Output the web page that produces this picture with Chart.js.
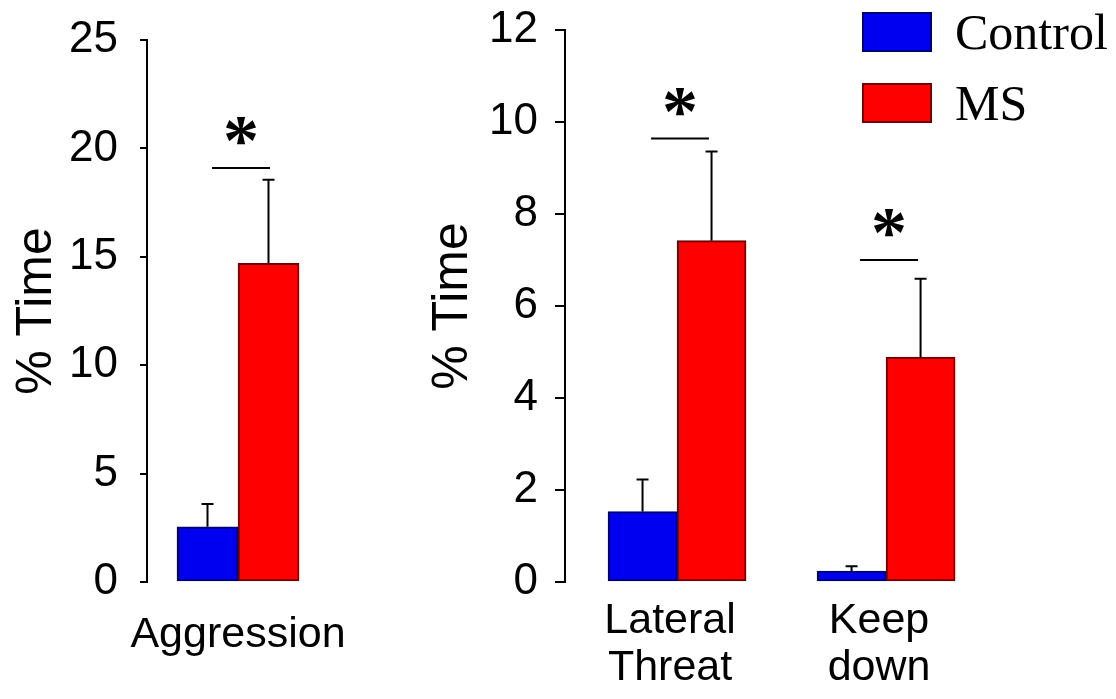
<!DOCTYPE html>
<html>
<head>
<meta charset="utf-8">
<script src="https://cdn.jsdelivr.net/npm/chart.js@4.4.1/dist/chart.umd.min.js"></script>
<style>
  html, body { margin: 0; padding: 0; background: #fff; }
  #wrap { position: relative; width: 1116px; height: 699px; overflow: hidden; }
  #c1 { position: absolute; left: 0; top: 0; }
  #c2 { position: absolute; left: 380px; top: 0; }
  .key { position: absolute; left: 862px; height: 40px; display: flex; align-items: center;
         font: 50px 'Liberation Serif', 'Times New Roman', serif; color: #000; }
  .sw { width: 66px; height: 36px; border: 2px solid; margin-right: 23px; }
</style>
</head>
<body>
<div id="wrap">
  <canvas id="c1" width="380" height="699"></canvas>
  <canvas id="c2" width="736" height="699"></canvas>
  <div class="key" style="top:12px"><span class="sw" style="background:#0000f0;border-color:#000070"></span>Control</div>
  <div class="key" style="top:83px"><span class="sw" style="background:#ff0000;border-color:#700000"></span>MS</div>
</div>
<script>
const Chart = window.Chart;
Chart.defaults.font.family = "'Liberation Sans', Arial, sans-serif";
Chart.defaults.color = '#000';

// left panel: aggression
const aggCats = ['Aggression'];
const aggControl = [2.55];
const aggControlErr = [1.05];
const aggMS = [14.7];
const aggMSErr = [3.85];
const aggSig = [19.1];

// right panel: lateral threat / keep down
const socCats = [['Lateral', 'Threat'], ['Keep', 'down']];
const socControl = [1.53, 0.24];
const socControlErr = [0.70, 0.10];
const socMS = [7.42, 4.89];
const socMSErr = [1.94, 1.70];
const socSig = [9.64, 7.0];

const C = {
  blue: '#0000f0', blueEdge: '#000070',
  red: '#ff0000', redEdge: '#700000',
  ink: '#000',
};

// upward-only SEM bars with a cap
const errorBars = {
  id: 'errorBars',
  afterDatasetsDraw(chart, args, opts) {
    const { ctx, scales: { y } } = chart;
    ctx.save();
    ctx.strokeStyle = C.ink;
    ctx.lineWidth = 2;
    chart.data.datasets.forEach((ds, di) => {
      chart.getDatasetMeta(di).data.forEach((bar, i) => {
        const top = y.getPixelForValue(ds.data[i].y + ds.err[i]);
        ctx.beginPath();
        ctx.moveTo(bar.x, bar.y);
        ctx.lineTo(bar.x, top);
        ctx.moveTo(bar.x - opts.cap, top);
        ctx.lineTo(bar.x + opts.cap, top);
        ctx.stroke();
      });
    });
    ctx.restore();
  },
};

// significance line + asterisk above each group
const sigMarks = {
  id: 'sigMarks',
  afterDatasetsDraw(chart, args, opts) {
    const { ctx, scales: { x, y } } = chart;
    ctx.save();
    ctx.strokeStyle = C.ink;
    ctx.fillStyle = C.ink;
    ctx.lineWidth = 2;
    ctx.font = "bold 72px 'Liberation Serif', 'Times New Roman', serif";
    ctx.textAlign = 'center';
    ctx.textBaseline = 'alphabetic';
    opts.levels.forEach((lv, i) => {
      const cx = x.getPixelForValue(i) + opts.shift;
      const py = y.getPixelForValue(lv);
      ctx.beginPath();
      ctx.moveTo(cx - opts.half, py);
      ctx.lineTo(cx + opts.half, py);
      ctx.stroke();
      ctx.fillText('*', cx, py - opts.gap);
    });
    ctx.restore();
  },
};

function panel(id, cfg) {
  return new Chart(document.getElementById(id), {
    type: 'bar',
    data: {
      datasets: [
        { label: 'Control', data: cfg.control.map((v, i) => ({ x: i, y: v })), err: cfg.controlErr,
          backgroundColor: C.blue, borderColor: C.blueEdge },
        { label: 'MS', data: cfg.ms.map((v, i) => ({ x: i, y: v })), err: cfg.msErr,
          backgroundColor: C.red, borderColor: C.redEdge },
      ],
    },
    plugins: [errorBars, sigMarks],
    options: {
      responsive: false,
      animation: false,
      layout: { padding: { top: cfg.top, right: cfg.right, left: 0, bottom: 0 } },
      datasets: { bar: { barThickness: cfg.barW, borderWidth: 2, borderSkipped: false } },
      plugins: {
        legend: { display: false },
        tooltip: { enabled: false },
        errorBars: { cap: 6 },
        sigMarks: { levels: cfg.sig, half: 29, shift: 3, gap: 4 },
      },
      scales: {
        x: {
          type: 'linear', min: cfg.xMin, max: cfg.xMax, offset: false,
          grid: { display: false, drawTicks: false },
          border: { display: false },
          ticks: {
            stepSize: 1, includeBounds: false, autoSkip: false, maxRotation: 0, minRotation: 0,
            padding: cfg.xPad, labelOffset: cfg.xShift, font: { size: 43, lineHeight: 1.08 },
            callback: (v) => cfg.cats[v] ?? '',
          },
          afterFit: (s) => { s.height = 117; },
        },
        y: {
          min: 0, max: cfg.yMax,
          ticks: { stepSize: cfg.step, padding: cfg.yPad, font: { size: 44, lineHeight: 0.4 } },
          grid: { drawOnChartArea: false, color: C.ink, lineWidth: 2, tickLength: cfg.tick },
          border: { color: C.ink, width: 2 },
          title: { display: true, text: '% Time', font: { size: 50, lineHeight: 1 },
                   padding: { top: cfg.titlePad, bottom: 0 } },
          afterFit: (s) => { s.width = cfg.axisW; },
        },
      },
    },
  });
}

panel('c1', {
  cats: aggCats, control: aggControl, controlErr: aggControlErr, ms: aggMS, msErr: aggMSErr, sig: aggSig,
  yMax: 25, step: 5, top: 40, right: 51, axisW: 147, xMin: -0.5, xMax: 0.5,
  barW: 61, tick: 7, yPad: 22, xPad: 30, xShift: 0, titlePad: 12,
});

panel('c2', {
  cats: socCats, control: socControl, controlErr: socControlErr, ms: socMS, msErr: socMSErr, sig: socSig,
  yMax: 12, step: 2, top: 30, right: 116, axisW: 185, xMin: -0.536, xMax: 1.545,
  barW: 69, tick: 10, yPad: 17, xPad: 16, xShift: -7, titlePad: 48,
});
</script>
</body>
</html>
